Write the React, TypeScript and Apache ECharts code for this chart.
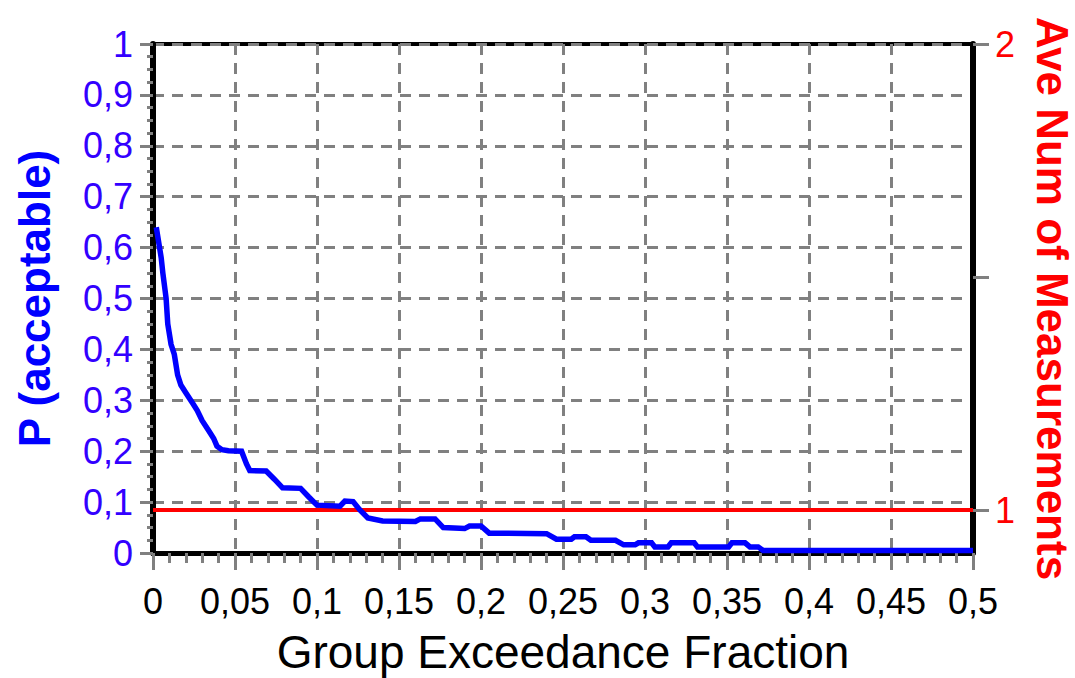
import React, { useEffect, useRef } from "react";
import * as echarts from "echarts";

const titleText = "Performance Curve";
const xAxisName = "Group Exceedance Fraction";
const leftAxisName = "P (acceptable)";
const rightAxisName = "Ave Num of Measurements";

// Blue curve: P(acceptable) vs group exceedance fraction
const fractionValues = [
  0.002, 0.004, 0.005, 0.006, 0.008, 0.009, 0.011, 0.013, 0.015, 0.017, 0.02,
  0.024, 0.027, 0.03, 0.034, 0.037, 0.039, 0.042, 0.046, 0.054, 0.057, 0.059,
  0.069, 0.074, 0.079, 0.09, 0.095, 0.1, 0.114, 0.117, 0.122, 0.126, 0.131,
  0.14, 0.16, 0.163, 0.172, 0.177, 0.19, 0.193, 0.2, 0.205, 0.24, 0.246,
  0.255, 0.257, 0.264, 0.267, 0.282, 0.287, 0.294, 0.296, 0.304, 0.306,
  0.314, 0.316, 0.33, 0.332, 0.351, 0.353, 0.361, 0.364, 0.369, 0.372, 0.5,
];
const pAcceptable = [
  0.64, 0.6, 0.58, 0.55, 0.5, 0.45, 0.41, 0.39, 0.35, 0.33, 0.315, 0.295,
  0.28, 0.26, 0.24, 0.225, 0.21, 0.203, 0.201, 0.2, 0.175, 0.162, 0.161,
  0.145, 0.128, 0.127, 0.11, 0.094, 0.092, 0.102, 0.101, 0.085, 0.069, 0.063,
  0.062, 0.067, 0.067, 0.05, 0.048, 0.053, 0.053, 0.039, 0.038, 0.027, 0.027,
  0.032, 0.032, 0.025, 0.025, 0.016, 0.016, 0.02, 0.02, 0.012, 0.012, 0.02,
  0.02, 0.012, 0.012, 0.02, 0.02, 0.012, 0.012, 0.005, 0.005,
];

// Red line: average number of measurements (right axis)
const aveFraction = [0, 0.5];
const aveNumMeasurements = [1, 1];

const rightAxisLabels = [1, 2];
const rightAxisTicks = [1, 1.5, 2];

const FONT = "Liberation Sans";
const fmt = (v: number) => String(+Number(v).toFixed(3)).replace(".", ",");

export default function App() {
  const ref = useRef<HTMLDivElement>(null);

  useEffect(() => {
    document.body.style.margin = "0";
    if (!ref.current) return;
    const chart = echarts.init(ref.current, undefined, { renderer: "svg" });
    const gridLine = { color: "#808080", width: 3, type: [11, 8] as any };
    const option: any = {
      animation: false,
      backgroundColor: "#ffffff",
      grid: {
        left: 153,
        right: 102,
        top: 44,
        bottom: 125,
        show: true,
        borderColor: "#000000",
        borderWidth: 4,
        containLabel: false,
        outerBoundsMode: "none",
      },
      graphic: [
        {
          type: "text",
          x: 545,
          y: -22,
          style: {
            text: titleText,
            x: 0,
            y: 0,
            fill: "#0000ff",
            font: `bold 55px '${FONT}'`,
            textAlign: "center",
            textVerticalAlign: "middle",
          },
        },
      ],
      xAxis: {
        type: "value",
        min: 0,
        max: 0.5,
        interval: 0.05,
        name: xAxisName,
        nameLocation: "middle",
        nameGap: 76,
        nameTextStyle: { color: "#000000", fontSize: 46, fontFamily: FONT },
        axisLine: { show: true, onZero: false, lineStyle: { color: "#000000", width: 5 } },
        axisTick: { show: true, length: 17, lineStyle: { color: "#808080", width: 3 } },
        minorTick: { show: true, splitNumber: 5, length: 10, lineStyle: { color: "#808080", width: 3 } },
        axisLabel: {
          color: "#000000",
          fontSize: 36,
          fontFamily: FONT,
          margin: 30,
          formatter: fmt,
        },
        splitLine: { show: true, lineStyle: gridLine },
      },
      yAxis: [
        {
          type: "value",
          position: "left",
          min: 0,
          max: 1,
          interval: 0.1,
          name: leftAxisName,
          nameLocation: "middle",
          nameRotate: 90,
          nameGap: 97,
          nameTextStyle: { color: "#0000ff", fontSize: 44, fontWeight: "bold", fontFamily: FONT },
          axisLine: { show: true, onZero: false, lineStyle: { color: "#000000", width: 6 } },
          axisTick: { show: true, length: 13, lineStyle: { color: "#808080", width: 3 } },
          minorTick: { show: true, splitNumber: 4, length: 6, lineStyle: { color: "#808080", width: 3 } },
          axisLabel: {
            color: "#3300ff",
            fontSize: 36,
            fontFamily: FONT,
            margin: 20,
            formatter: fmt,
          },
          splitLine: { show: true, lineStyle: gridLine },
        },
        {
          type: "value",
          position: "right",
          min: 0.908,
          max: 2,
          name: rightAxisName,
          nameLocation: "middle",
          nameRotate: -90,
          nameGap: 57,
          nameTextStyle: { color: "#ff0000", fontSize: 44, fontWeight: "bold", fontFamily: FONT },
          axisLine: { show: true, onZero: false, lineStyle: { color: "#000000", width: 6 } },
          axisTick: {
            show: true,
            length: 16,
            customValues: rightAxisTicks,
            lineStyle: { color: "#808080", width: 3 },
          },
          axisLabel: {
            color: "#ff0000",
            fontSize: 36,
            fontFamily: FONT,
            margin: 22,
            customValues: rightAxisLabels,
            formatter: fmt,
          },
          splitLine: { show: false },
        },
      ],
      series: [
        {
          type: "line",
          yAxisIndex: 1,
          data: aveFraction.map((x, i) => [x, aveNumMeasurements[i]]),
          symbol: "none",
          lineStyle: { color: "#ff0000", width: 4 },
          z: 3,
          silent: true,
        },
        {
          type: "line",
          yAxisIndex: 0,
          data: fractionValues.map((x, i) => [x, pAcceptable[i]]),
          symbol: "none",
          clip: false,
          lineStyle: { color: "#0000ff", width: 5.5, join: "miter" },
          z: 4,
          silent: true,
        },
      ],
    };
    chart.setOption(option);
    return () => chart.dispose();
  }, []);

  return <div ref={ref} style={{ width: 1075, height: 678 }} />;
}
